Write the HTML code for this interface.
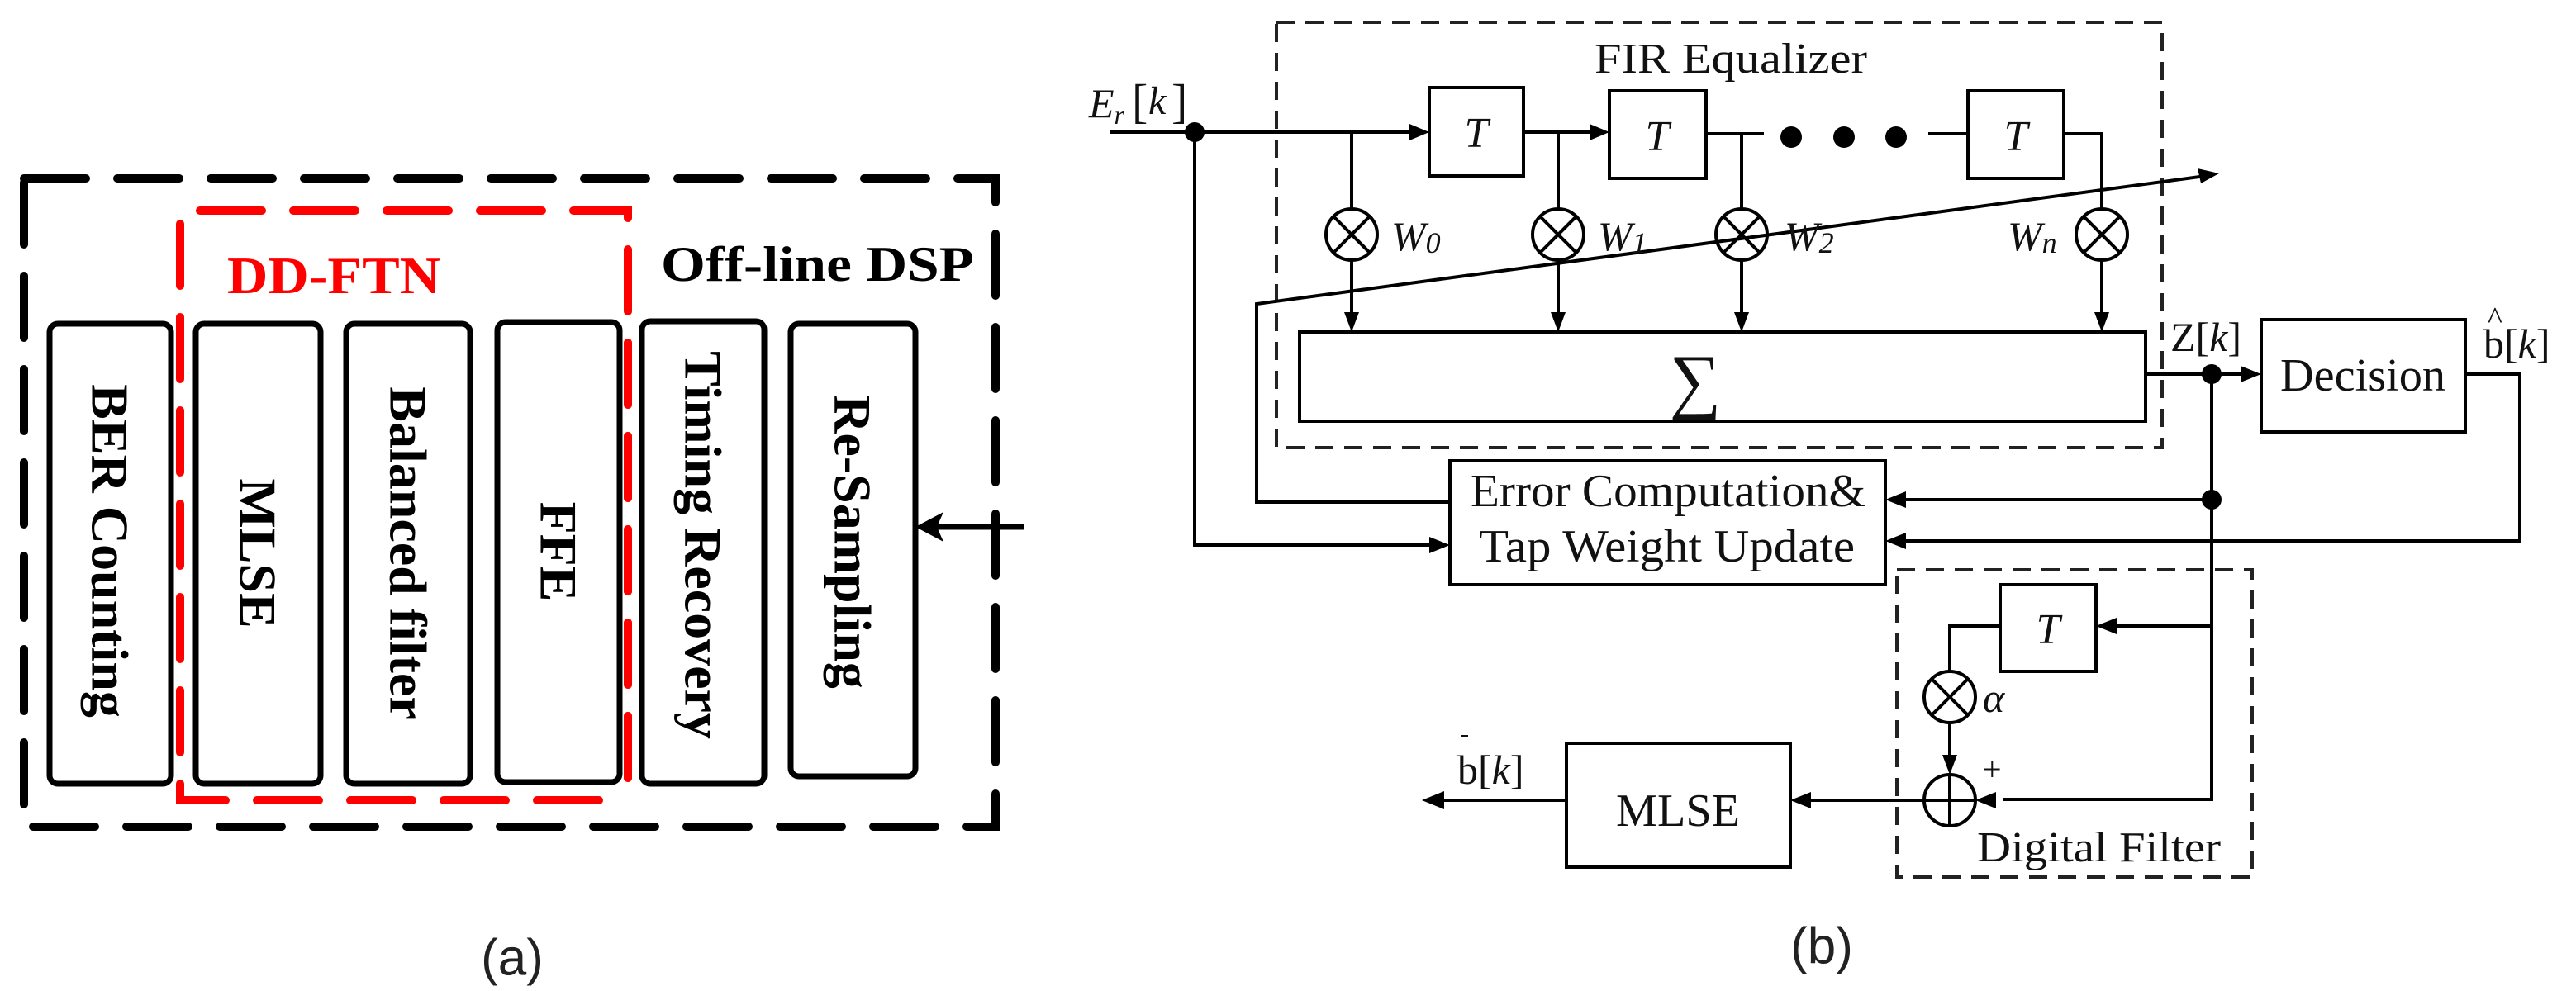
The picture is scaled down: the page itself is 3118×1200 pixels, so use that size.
<!DOCTYPE html>
<html><head><meta charset="utf-8"><style>
html,body{margin:0;padding:0;background:#fff;width:3118px;height:1200px;overflow:hidden}
svg{display:block}
</style></head><body>
<svg width="3118" height="1200" viewBox="0 0 3118 1200" xmlns="http://www.w3.org/2000/svg">
<defs>
<marker id="ah" markerWidth="10" markerHeight="8" refX="9" refY="4" orient="auto" markerUnits="userSpaceOnUse" viewBox="0 0 10 8">
</marker>
</defs>
<!-- ===== Panel (a) ===== -->
<g fill="none" stroke="#000" stroke-width="10" stroke-linecap="round">
  <rect x="29" y="216" width="1176" height="785" stroke-dasharray="75 38"/>
</g>
<g fill="none" stroke="#ff0000" stroke-width="10" stroke-linecap="round" stroke-dasharray="75 38">
  <path d="M242 255 H760 V378"/>
  <path d="M760 415 V946"/>
  <path d="M218 271 V969 H742"/>
</g>
<g fill="#fff" stroke="#000" stroke-width="7">
  <rect x="60" y="392" width="147" height="557" rx="10"/>
  <rect x="237" y="392" width="151" height="557" rx="10"/>
  <rect x="419" y="392" width="150" height="557" rx="10"/>
  <rect x="602" y="390" width="148" height="557" rx="10"/>
  <rect x="777" y="389" width="148" height="560" rx="10"/>
  <rect x="957" y="392" width="151" height="548" rx="10"/>
</g>
<path d="M760 415 V946" fill="none" stroke="#ff0000" stroke-width="10" stroke-dasharray="75 38" stroke-linecap="round"/>
<g font-family="Liberation Serif, serif" font-weight="bold" font-size="64" fill="#000">
  <text transform="translate(133,667) rotate(90)" text-anchor="middle" dominant-baseline="central">BER Counting</text>
  <text transform="translate(312,670) rotate(90)" text-anchor="middle" dominant-baseline="central">MLSE</text>
  <text transform="translate(494,670) rotate(90)" text-anchor="middle" dominant-baseline="central">Balanced filter</text>
  <text transform="translate(676,668) rotate(90)" text-anchor="middle" dominant-baseline="central">FFE</text>
  <text transform="translate(851,660) rotate(90)" text-anchor="middle" dominant-baseline="central">Timing Recovery</text>
  <text transform="translate(1032,656) rotate(90)" text-anchor="middle" dominant-baseline="central">Re-Sampling</text>
  <text x="275" y="355" fill="#ff0000" font-size="64" textLength="258" lengthAdjust="spacingAndGlyphs">DD-FTN</text>
  <text x="800" y="340" font-size="60" textLength="379" lengthAdjust="spacingAndGlyphs">Off-line DSP</text>
</g>
<line x1="1240" y1="638" x2="1130" y2="638" stroke="#000" stroke-width="7"/>
<polygon points="1108,638 1142,620 1134,638 1142,656" fill="#000"/>
<text x="620" y="1160" font-family="Liberation Sans, sans-serif" font-size="62" text-anchor="middle" dominant-baseline="central" fill="#222">(a)</text>

<!-- ===== Panel (b) ===== -->
<g fill="none" stroke="#222" stroke-width="4" stroke-dasharray="22 13">
  <rect x="1545" y="27" width="1072" height="515"/>
  <rect x="2296" y="690" width="430" height="372"/>
</g>
<g fill="none" stroke="#000" stroke-width="4">
  <!-- input -->
  <path d="M1344 160 H1715"/>
  <path d="M1844 160 H1935"/>
  <path d="M2065 162 H2135"/>
  <path d="M2334 162 H2382"/>
  <path d="M2498 162 H2544 V253"/>
  <!-- taps -->
  <path d="M1636 160 V253"/><path d="M1886 160 V253"/><path d="M2108 162 V253"/>
  <path d="M1636 315 V392"/><path d="M1886 315 V392"/><path d="M2108 315 V392"/><path d="M2544 315 V392"/>
  <!-- T boxes -->
  <rect x="1730" y="106" width="114" height="107"/>
  <rect x="1948" y="110" width="117" height="106"/>
  <rect x="2382" y="110" width="116" height="106"/>
  <!-- multipliers -->
  <ellipse cx="1636" cy="284" rx="31" ry="31"/>
  <ellipse cx="1886" cy="284" rx="31" ry="31"/>
  <ellipse cx="2108" cy="284" rx="31" ry="31"/>
  <ellipse cx="2544" cy="284" rx="31" ry="31"/>
  <path d="M1614 262 L1658 306 M1658 262 L1614 306"/>
  <path d="M1864 262 L1908 306 M1908 262 L1864 306"/>
  <path d="M2086 262 L2130 306 M2130 262 L2086 306"/>
  <path d="M2522 262 L2566 306 M2566 262 L2522 306"/>
  <!-- sigma box -->
  <rect x="1573" y="402" width="1024" height="108"/>
  <!-- diagonal -->
  <path d="M1757 608 H1521 V368 L2670 213"/>
  <!-- output of sigma -->
  <path d="M2597 453 H2725"/>
  <!-- decision -->
  <rect x="2737" y="387" width="247" height="136"/>
  <path d="M2984 453 H3050 V655 H2305"/>
  <!-- error box -->
  <rect x="1755" y="558" width="527" height="150"/>
  <path d="M1446 160 V660 H1740"/>
  <path d="M2677 453 V968 H2425"/>
  <path d="M2677 605 H2300"/>
  <path d="M2677 758 H2555"/>
  <!-- digital filter -->
  <rect x="2421" y="708" width="116" height="105"/>
  <path d="M2421 758 H2360 V813"/>
  <ellipse cx="2360" cy="844" rx="31" ry="31"/>
  <path d="M2338 822 L2382 866 M2382 822 L2338 866"/>
  <path d="M2360 875 V925"/>
  <ellipse cx="2360" cy="969" rx="31" ry="31"/>
  <path d="M2329 969 H2391 M2360 938 V1000"/>
  <path d="M2329 969 H2185"/>
  <rect x="1896" y="900" width="271" height="150"/>
  <path d="M1896 969 H1740"/>
</g>
<g fill="#000">
  <polygon points="1730,160 1706,150 1706,170"/>
  <polygon points="1948,160 1924,150 1924,170"/>
  <polygon points="1636,402 1627,378 1645,378"/>
  <polygon points="1886,402 1877,378 1895,378"/>
  <polygon points="2108,402 2099,378 2117,378"/>
  <polygon points="2544,402 2535,378 2553,378"/>
  <polygon points="2686,210 2660,204 2664,222"/>
  <polygon points="2737,453 2712,443 2712,463"/>
  <polygon points="1755,660 1730,650 1730,670"/>
  <polygon points="2282,605 2307,595 2307,615"/>
  <polygon points="2282,655 2307,645 2307,665"/>
  <polygon points="2537,758 2562,748 2562,768"/>
  <polygon points="2360,938 2351,914 2369,914"/>
  <polygon points="2391,969 2416,959 2416,979"/>
  <polygon points="2167,969 2192,959 2192,979"/>
  <polygon points="1721,969 1748,958 1748,980"/>
  <circle cx="1446" cy="160" r="12"/>
  <circle cx="2677" cy="453" r="12"/>
  <circle cx="2677" cy="605" r="12"/>
  <circle cx="2168" cy="166" r="13"/>
  <circle cx="2232" cy="166" r="13"/>
  <circle cx="2295" cy="166" r="13"/>
</g>
<g font-family="Liberation Serif, serif" fill="#111" font-size="52">
  <text x="1930" y="88" textLength="330" lengthAdjust="spacingAndGlyphs">FIR Equalizer</text>
  <text x="1787" y="178" font-style="italic" text-anchor="middle">T</text>
  <text x="2006" y="182" font-style="italic" text-anchor="middle">T</text>
  <text x="2440" y="182" font-style="italic" text-anchor="middle">T</text>
  <text x="2479" y="779" font-style="italic" text-anchor="middle">T</text>
  <text x="1684" y="303" font-style="italic" font-size="50">W<tspan font-size="36" dy="3">0</tspan></text>
  <text x="1934" y="303" font-style="italic" font-size="50">W<tspan font-size="36" dy="3">1</tspan></text>
  <text x="2160" y="303" font-style="italic" font-size="50">W<tspan font-size="36" dy="3">2</tspan></text>
  <text x="2430" y="303" font-style="italic" font-size="50">W<tspan font-size="36" dy="3">n</tspan></text>
  <text x="2052" y="490" font-size="88" text-anchor="middle">∑</text>
  <text x="1318" y="142" font-style="italic" font-size="50">E<tspan font-size="32" dy="8">r</tspan></text>
  <text x="1370" y="142" font-size="58" dy="0">[</text>
  <text x="1390" y="138" font-style="italic" font-size="48">k</text>
  <text x="1418" y="142" font-size="58">]</text>
  <text x="1780" y="613" font-size="56" textLength="478" lengthAdjust="spacingAndGlyphs">Error Computation&amp;</text>
  <text x="1790" y="680" font-size="56" textLength="455" lengthAdjust="spacingAndGlyphs">Tap Weight Update</text>
  <text x="2860" y="473" font-size="56" text-anchor="middle" textLength="200" lengthAdjust="spacingAndGlyphs">Decision</text>
  <text x="2627" y="425" font-size="50">Z[<tspan font-style="italic">k</tspan>]</text>
  <text x="3006" y="433" font-size="50">b[<tspan font-style="italic">k</tspan>]</text>
  <text x="3011" y="398" font-size="38">^</text>
  <text x="1764" y="949" font-size="50">b[<tspan font-style="italic">k</tspan>]</text>
  <rect x="1768" y="890" width="9" height="3"/>
  <text x="2031" y="1000" font-size="56" text-anchor="middle" textLength="150" lengthAdjust="spacingAndGlyphs">MLSE</text>
  <text x="2400" y="862" font-style="italic" font-size="50">α</text>
  <text x="2400" y="945" font-size="40">+</text>
  <text x="2393" y="1043" font-size="52" textLength="295" lengthAdjust="spacingAndGlyphs">Digital Filter</text>
</g>
<text x="2205" y="1146" font-family="Liberation Sans, sans-serif" font-size="62" text-anchor="middle" dominant-baseline="central" fill="#222">(b)</text>
</svg>
</body></html>
